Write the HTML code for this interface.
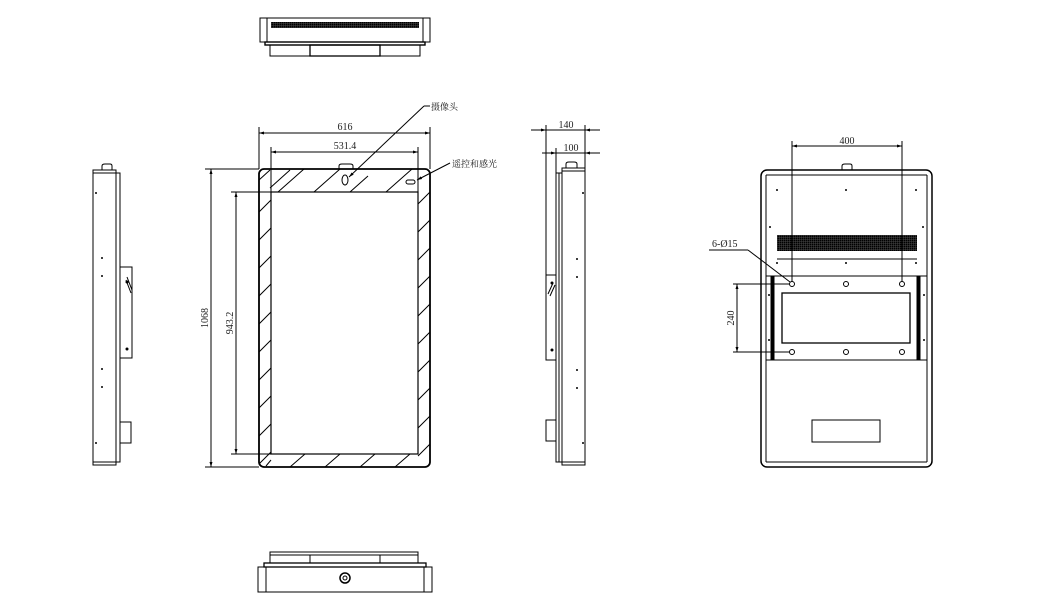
<!DOCTYPE html>
<html><head><meta charset="utf-8"><style>
html,body{margin:0;padding:0;background:#fff;}
svg{display:block;}
text{font-family:"Liberation Serif","Noto Serif CJK SC",serif;fill:#222;}
</style></head><body>
<svg width="1044" height="612" viewBox="0 0 1044 612" xmlns="http://www.w3.org/2000/svg">
<defs>
<marker id="a" viewBox="0 0 10 10" refX="10" refY="5" markerWidth="8" markerHeight="5" orient="auto-start-reverse"><path d="M0,2 L10,5 L0,8 z" fill="#000"/></marker>
<pattern id="vent" width="2" height="2" patternUnits="userSpaceOnUse"><rect width="2" height="2" fill="#555"/><rect width="1.6" height="1.6" fill="#000"/></pattern>
</defs>
<g fill="none" stroke="#000" stroke-width="1">

<!-- TOP VIEW -->
<rect x="260" y="18" width="170" height="24"/>
<line x1="267" y1="18" x2="267" y2="42"/><line x1="423" y1="18" x2="423" y2="42"/>
<rect x="271" y="22" width="148" height="6" fill="url(#vent)" stroke="none"/>
<rect x="265" y="42" width="160" height="3" stroke-width="1.4"/>
<rect x="270" y="45" width="150" height="11"/>
<rect x="310" y="45" width="70" height="11" stroke-width="1.3"/>

<!-- BOTTOM VIEW -->
<rect x="270" y="552" width="148" height="11"/>
<line x1="270" y1="555" x2="418" y2="555"/>
<line x1="310" y1="555" x2="310" y2="563"/><line x1="380" y1="555" x2="380" y2="563"/>
<rect x="264" y="563" width="162" height="4" stroke-width="1.3"/>
<rect x="258" y="567" width="174" height="25"/>
<line x1="266" y1="567" x2="266" y2="592"/><line x1="424" y1="567" x2="424" y2="592"/>
<circle cx="345" cy="578" r="5" stroke-width="1.5"/><circle cx="345" cy="578" r="2"/>

<!-- FRONT VIEW -->
<rect x="259" y="169" width="171" height="298" rx="5" stroke-width="1.8"/>
<rect x="271" y="192" width="147" height="262" stroke-width="1.2"/>
<path d="M339,169 v-3 q0,-2 3,-2 h8 q3,0 3,2 v3" />
<ellipse cx="345" cy="180" rx="3" ry="5"/>
<rect x="406" y="180" width="9" height="4" rx="2"/>
<path d="M270,188 L290,170 M278,192 L304,169 M314,192 L340,169 M350,192 L368,176 M386,192 L412,169 M259,180 L270,170"/>
<path d="M259,212 L271,200 M259,240 L271,228 M259,268 L271,256 M259,296 L271,284 M259,324 L271,312 M259,352 L271,340 M259,380 L271,368 M259,408 L271,396 M259,436 L271,424 M259,464 L271,452"/>
<path d="M418,204 L430,192 M418,232 L430,220 M418,260 L430,248 M418,288 L430,276 M418,316 L430,304 M418,344 L430,332 M418,372 L430,360 M418,400 L430,388 M418,428 L430,416 M418,456 L430,444"/>
<path d="M290,467 L305,454 M325,467 L340,454 M360,467 L375,454 M395,467 L410,454 M266,466 L271,460"/>
<line x1="259" y1="127" x2="259" y2="169"/><line x1="430" y1="127" x2="430" y2="169"/>
<line x1="259" y1="133" x2="430" y2="133" marker-start="url(#a)" marker-end="url(#a)"/>
<line x1="271" y1="147" x2="271" y2="192"/><line x1="418" y1="147" x2="418" y2="192"/>
<line x1="271" y1="152" x2="418" y2="152" marker-start="url(#a)" marker-end="url(#a)"/>
<line x1="205" y1="169" x2="259" y2="169"/><line x1="205" y1="467" x2="259" y2="467"/>
<line x1="211" y1="169" x2="211" y2="467" marker-start="url(#a)" marker-end="url(#a)"/>
<line x1="231" y1="192" x2="271" y2="192"/><line x1="231" y1="454" x2="271" y2="454"/>
<line x1="236" y1="192" x2="236" y2="454" marker-start="url(#a)" marker-end="url(#a)"/>
<line x1="424" y1="106" x2="349" y2="177" marker-end="url(#a)"/><line x1="424" y1="106" x2="430" y2="106"/>
<line x1="450" y1="163" x2="417" y2="180" marker-end="url(#a)"/>

<!-- LEFT SIDE VIEW -->
<rect x="93" y="170" width="23" height="295"/>
<line x1="93" y1="173" x2="116" y2="173"/><line x1="93" y1="462" x2="116" y2="462"/>
<rect x="116" y="173" width="4" height="289"/>
<path d="M102,170 v-4 q0,-2 3,-2 h5 q2,0 2,2 v4"/>
<rect x="120" y="267" width="12" height="91"/>
<path d="M126,280 L131,293 M127,277 L132,290"/>
<rect x="120" y="422" width="11" height="21"/>

<!-- RIGHT SIDE VIEW -->
<rect x="562" y="168" width="23" height="297"/>
<line x1="562" y1="171" x2="585" y2="171"/><line x1="562" y1="462" x2="585" y2="462"/>
<rect x="556" y="173" width="6" height="289"/>
<line x1="559" y1="173" x2="559" y2="462"/>
<path d="M566,168 v-4 q0,-2 3,-2 h5 q3,0 3,2 v4"/>
<rect x="546" y="275" width="10" height="85"/>
<path d="M548,294 L553,283 M550,296 L555,285"/>
<rect x="546" y="420" width="10" height="21"/>
<line x1="546" y1="125" x2="546" y2="275"/><line x1="585" y1="125" x2="585" y2="168"/><line x1="556" y1="148" x2="556" y2="173"/>
<line x1="531" y1="130" x2="546" y2="130" marker-end="url(#a)"/><line x1="546" y1="130" x2="585" y2="130"/><line x1="600" y1="130" x2="585" y2="130" marker-end="url(#a)"/>
<line x1="542" y1="153" x2="556" y2="153" marker-end="url(#a)"/><line x1="556" y1="153" x2="585" y2="153"/><line x1="600" y1="153" x2="585" y2="153" marker-end="url(#a)"/>

<!-- BACK VIEW -->
<rect x="761" y="170" width="171" height="297" rx="6" stroke-width="1.5"/>
<line x1="766" y1="175" x2="766" y2="462"/><line x1="927" y1="175" x2="927" y2="462"/>
<line x1="766" y1="175" x2="927" y2="175"/><line x1="766" y1="462" x2="927" y2="462"/>
<path d="M842,170 v-4 q0,-2 3,-2 h5 q2,0 2,2 v4"/>
<rect x="777" y="235" width="140" height="16" fill="url(#vent)" stroke="none"/>
<line x1="777" y1="259" x2="917" y2="259"/>
<rect x="766" y="276" width="161" height="84"/>
<rect x="771" y="276" width="3" height="84" fill="#000"/>
<rect x="917" y="276" width="3" height="84" fill="#000"/>
<rect x="782" y="293" width="128" height="50" stroke-width="1.3"/>
<circle cx="792" cy="284" r="2.5"/><circle cx="846" cy="284" r="2.5"/><circle cx="902" cy="284" r="2.5"/>
<circle cx="792" cy="352" r="2.5"/><circle cx="846" cy="352" r="2.5"/><circle cx="902" cy="352" r="2.5"/>
<rect x="812" y="420" width="68" height="22"/>
<line x1="792" y1="141" x2="792" y2="282"/><line x1="902" y1="141" x2="902" y2="282"/>
<line x1="792" y1="146" x2="902" y2="146" marker-start="url(#a)" marker-end="url(#a)"/>
<line x1="733" y1="284" x2="789" y2="284"/><line x1="733" y1="352" x2="789" y2="352"/>
<line x1="737" y1="284" x2="737" y2="352" marker-start="url(#a)" marker-end="url(#a)"/>
<line x1="709" y1="250" x2="748" y2="250"/><line x1="748" y1="250" x2="790" y2="282"/>
</g>
<g fill="#000">
<circle cx="96" cy="193" r="1"/><circle cx="102" cy="258" r="1"/><circle cx="102" cy="276" r="1"/><circle cx="102" cy="369" r="1"/><circle cx="102" cy="387" r="1"/><circle cx="96" cy="443" r="1"/>
<circle cx="583" cy="193" r="1"/><circle cx="577" cy="259" r="1"/><circle cx="577" cy="277" r="1"/><circle cx="577" cy="370" r="1"/><circle cx="577" cy="388" r="1"/><circle cx="583" cy="443" r="1"/>
<circle cx="127" cy="282" r="1.5"/><circle cx="127" cy="349" r="1.5"/>
<circle cx="552" cy="283" r="1.5"/><circle cx="552" cy="350" r="1.5"/>
<circle cx="777" cy="190" r="1"/><circle cx="846" cy="190" r="1"/><circle cx="916" cy="190" r="1"/>
<circle cx="770" cy="227" r="1"/><circle cx="923" cy="227" r="1"/>
<circle cx="777" cy="263" r="1"/><circle cx="846" cy="263" r="1"/><circle cx="916" cy="263" r="1"/>
<circle cx="769" cy="295" r="1"/><circle cx="924" cy="295" r="1"/><circle cx="769" cy="340" r="1"/><circle cx="924" cy="340" r="1"/>
</g>
<g font-size="10">
<text x="345" y="130" text-anchor="middle">616</text>
<text x="345" y="149" text-anchor="middle">531.4</text>
<text x="208" y="318" text-anchor="middle" transform="rotate(-90 208 318)">1068</text>
<text x="233" y="323" text-anchor="middle" transform="rotate(-90 233 323)">943.2</text>
<text x="431" y="110" font-size="9">摄像头</text>
<text x="452" y="167" font-size="9">遥控和感光</text>
<text x="566" y="128" text-anchor="middle">140</text>
<text x="571" y="151" text-anchor="middle">100</text>
<text x="847" y="144" text-anchor="middle">400</text>
<text x="734" y="318" text-anchor="middle" transform="rotate(-90 734 318)">240</text>
<text x="712" y="247">6-Ø15</text>
</g>
</svg>
</body></html>
